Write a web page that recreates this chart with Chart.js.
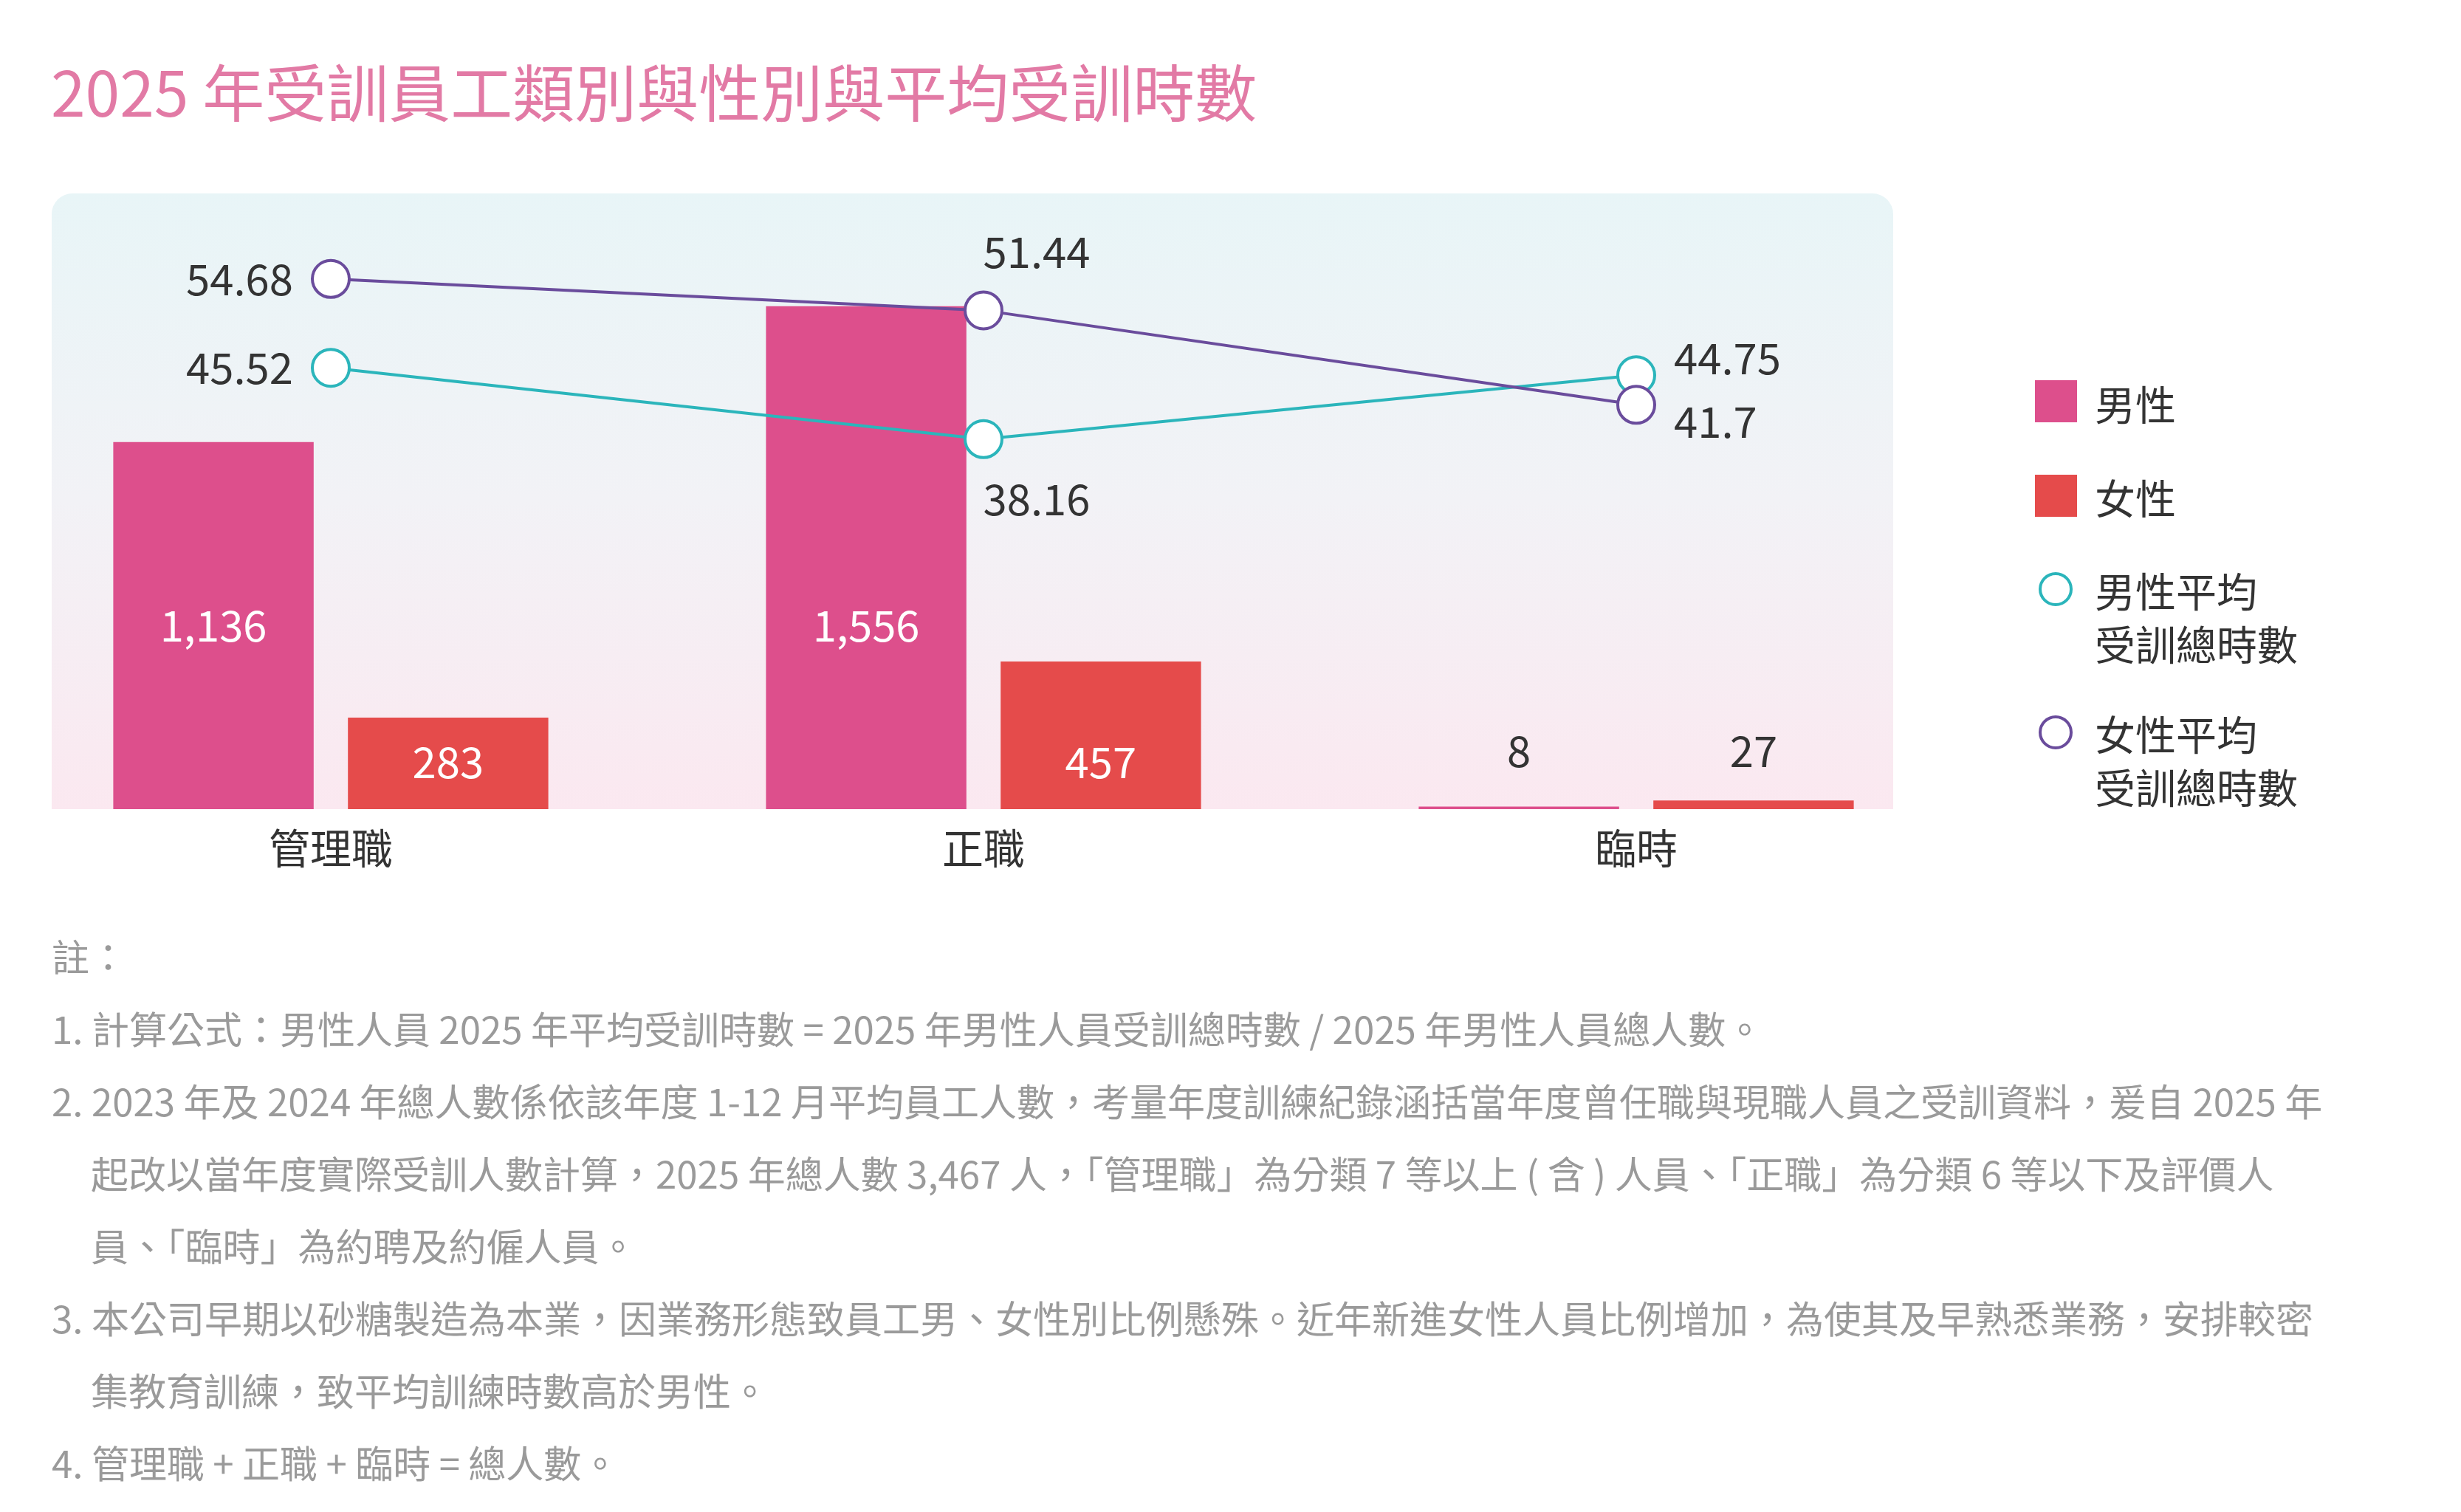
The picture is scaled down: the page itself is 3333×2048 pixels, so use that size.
<!DOCTYPE html>
<html><head><meta charset="utf-8">
<script src="https://cdn.jsdelivr.net/npm/chart.js@4"></script>
<style>
body{margin:0;width:3333px;height:2048px;background:#fff;font-family:"Noto Sans CJK TC","Noto Sans",sans-serif;position:relative;overflow:hidden}
#title{position:absolute;left:69px;top:80px;font-size:84px;color:#e27aa5;white-space:nowrap;line-height:1}
#wrap{position:absolute;left:-23px;top:0;width:3333px;height:1250px}
.sq{position:absolute;left:2756px;width:57px;height:57px}
.cir{position:absolute;left:2761px;width:46px;height:46px;border-radius:50%;border:4px solid;background:#fff;box-sizing:border-box}
.lt{position:absolute;left:2837px;font-size:55px;color:#333;line-height:72px;white-space:nowrap}
.notes{position:absolute;left:70px;top:1245px;font-size:51px;color:#9a9a9a;line-height:98px;white-space:nowrap}
.notes .in{padding-left:53px}
</style></head><body>
<div id="title">2025 年受訓員工類別與性別與平均受訓時數</div>
<div id="wrap"><canvas id="c" width="3333" height="1250"></canvas></div>
<div class="sq" style="top:515px;background:#dd4f8c"></div><div class="lt" style="top:509px">男性</div>
<div class="sq" style="top:643px;background:#e54b4b"></div><div class="lt" style="top:636px">女性</div>
<div class="cir" style="top:775px;border-color:#2bb5bb"></div><div class="lt" style="top:762px">男性平均<br>受訓總時數</div>
<div class="cir" style="top:969px;border-color:#6a4c9c"></div><div class="lt" style="top:956px">女性平均<br>受訓總時數</div>
<div class="notes">
<div>註：</div>
<div>1. 計算公式：男性人員 2025 年平均受訓時數 = 2025 年男性人員受訓總時數 / 2025 年男性人員總人數。</div>
<div>2. 2023 年及 2024 年總人數係依該年度 1-12 月平均員工人數，考量年度訓練紀錄涵括當年度曾任職與現職人員之受訓資料，爰自 2025 年</div>
<div class="in">起改以當年度實際受訓人數計算，2025 年總人數 3,467 人，「管理職」為分類 7 等以上 ( 含 ) 人員、「正職」為分類 6 等以下及評價人</div>
<div class="in">員、「臨時」為約聘及約僱人員。</div>
<div>3. 本公司早期以砂糖製造為本業，因業務形態致員工男、女性別比例懸殊。近年新進女性人員比例增加，為使其及早熟悉業務，安排較密</div>
<div class="in">集教育訓練，致平均訓練時數高於男性。</div>
<div>4. 管理職 + 正職 + 臨時 = 總人數。</div>
</div>
<script>
const categories=["管理職","正職","臨時"];
const maleCount=[1136,1556,8];
const femaleCount=[283,457,27];
const maleAvgHours=[45.52,38.16,44.75];
const femaleAvgHours=[54.68,51.44,41.7];

const FONT='"Noto Sans CJK TC","Noto Sans",sans-serif';
const bgPlugin={id:'bg',beforeDraw(ch){const a=ch.chartArea,c=ch.ctx;c.save();const L=93,R=2587;const g=c.createLinearGradient(0,a.top,0,a.bottom);g.addColorStop(0,'#e8f5f7');g.addColorStop(0.5,'#f2f2f6');g.addColorStop(1,'#fbe8f0');c.fillStyle=g;c.beginPath();c.roundRect(L,a.top,R-L,a.bottom-a.top,[28,28,0,0]);c.fill();c.restore();}};
const labelPlugin={id:'lbl',afterDatasetsDraw(ch){const c=ch.ctx;c.save();c.textBaseline='middle';c.textAlign='center';
 const x=ch.scales.x;
 c.font='56px '+FONT;c.fillStyle='#333';
 categories.forEach((t,i)=>c.fillText(t,x.getPixelForValue(i),ch.chartArea.bottom+53));
 c.font='58px '+FONT;
 const inside=[249,64];
 [0,1].forEach(di=>{const m=ch.getDatasetMeta(di);m.data.forEach((b,i)=>{const v=ch.data.datasets[di].data[i];const s=v.toLocaleString('en-US');
  if(b.base-b.y>100){c.fillStyle='#fff';c.fillText(s,b.x,b.base-inside[di]);}else{c.fillStyle='#333';c.fillText(s,b.x,b.base-79);}})});
 const place={2:['left','below','right'],3:['left','above','right']};
 const dy={2:[0,0,-23],3:[0,0,23]};
 [2,3].forEach(di=>{const m=ch.getDatasetMeta(di);m.data.forEach((p,i)=>{const v=ch.data.datasets[di].data[i];const w=place[di][i];c.fillStyle='#333';
  if(w==='left'){c.textAlign='right';c.fillText(v,p.x-51,p.y);}
  else if(w==='right'){c.textAlign='left';c.fillText(v,p.x+51,p.y+dy[di][i]);}
  else if(w==='above'){c.textAlign='center';c.fillText(v,p.x+72,p.y-79);}
  else{c.textAlign='center';c.fillText(v,p.x+72,p.y+81);}})});
 c.restore();}};
new Chart(document.getElementById('c'),{
 data:{labels:categories,datasets:[
  {type:'bar',label:'男性',data:maleCount,backgroundColor:'#dd4f8c',yAxisID:'y',order:2,categoryPercentage:0.719,barPercentage:0.854},
  {type:'bar',label:'女性',data:femaleCount,backgroundColor:'#e54b4b',yAxisID:'y',order:2,categoryPercentage:0.719,barPercentage:0.854},
  {type:'line',label:'男性平均受訓總時數',data:maleAvgHours,borderColor:'#2bb5bb',borderWidth:4,pointRadius:25,pointBorderWidth:4,pointBackgroundColor:'#fff',pointBorderColor:'#2bb5bb',yAxisID:'y2',order:1},
  {type:'line',label:'女性平均受訓總時數',data:femaleAvgHours,borderColor:'#6a4c9c',borderWidth:4,pointRadius:25,pointBorderWidth:4,pointBackgroundColor:'#fff',pointBorderColor:'#6a4c9c',yAxisID:'y2',order:0}
 ]},
 options:{responsive:false,animation:false,devicePixelRatio:1,
  layout:{padding:{left:0,right:652,top:262,bottom:154}},
  plugins:{legend:{display:false},tooltip:{enabled:false}},
  scales:{x:{display:false},y:{display:false,min:0,max:1905},y2:{display:false,min:0,max:63.5}}},
 plugins:[bgPlugin,labelPlugin]});
</script>
</body></html>
